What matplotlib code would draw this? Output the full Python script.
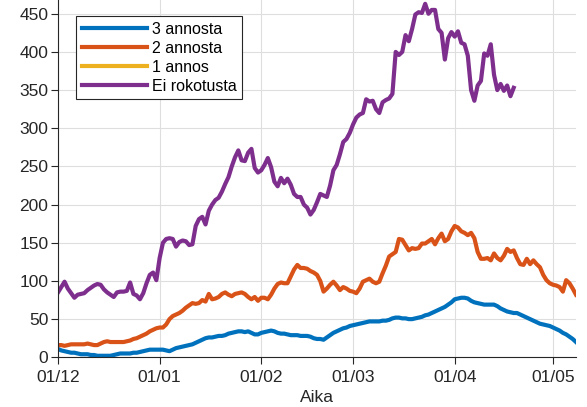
import numpy as np
import matplotlib
matplotlib.use("Agg")
import matplotlib.pyplot as plt
import matplotlib.dates as mdates

start_date = np.datetime64("2021-12-01")

# Daily values (day 0 = 1 Dec 2021)
ei_rokotusta = [85, 92, 99, 90, 84, 78, 82, 83, 84, 88, 91, 94, 96, 95, 89, 85, 82, 79, 85, 86,
                86, 87, 98, 83, 81, 76, 84, 97, 108, 111, 101, 130, 150, 155, 156, 155, 145, 151, 153, 152,
                147, 148, 172, 181, 184, 174, 192, 200, 206, 209, 217, 227, 236, 250, 262, 271, 258, 257, 268, 273,
                248, 242, 245, 252, 261, 249, 230, 224, 235, 228, 234, 226, 214, 210, 210, 200, 196, 187, 193, 203,
                214, 212, 210, 225, 245, 252, 266, 282, 286, 294, 305, 314, 318, 320, 338, 335, 336, 325, 320, 334,
                337, 339, 345, 400, 396, 400, 422, 414, 430, 449, 452, 451, 463, 450, 455, 455, 430, 425, 390, 418,
                426, 420, 427, 412, 410, 395, 350, 336, 356, 362, 398, 395, 410, 370, 350, 358, 349, 356, 342, 353]

annosta_2 = [16, 16, 15, 16, 17, 17, 17, 17, 17, 18, 17, 16, 16, 18, 20, 21, 20, 20, 20, 20,
             20, 21, 22, 24, 25, 27, 29, 31, 34, 36, 38, 39, 39, 43, 50, 54, 56, 58, 61, 65,
             68, 71, 70, 71, 75, 73, 83, 76, 77, 79, 83, 85, 82, 80, 83, 84, 85, 83, 79, 76,
             79, 74, 78, 78, 76, 82, 90, 96, 98, 97, 97, 106, 115, 121, 117, 117, 116, 113, 111, 108,
             100, 86, 90, 95, 99, 94, 88, 92, 90, 87, 86, 84, 90, 99, 101, 103, 99, 97, 99, 110,
             120, 132, 135, 138, 155, 154, 147, 140, 143, 142, 143, 149, 149, 152, 155, 148, 156, 162, 152, 155,
             165, 172, 170, 165, 163, 160, 163, 156, 138, 129, 129, 130, 127, 136, 130, 127, 133, 142, 138, 140,
             130, 122, 121, 129, 122, 127, 122, 118, 108, 101, 97, 95, 94, 92, 86, 101, 97, 90, 82]

annosta_3 = [11, 9, 8, 7, 6, 6, 5, 4, 4, 4, 3, 3, 2, 2, 2, 2, 2, 3, 4, 5,
             5, 5, 5, 6, 6, 7, 8, 9, 10, 10, 10, 10, 10, 9, 8, 10, 12, 13, 14, 15,
             16, 17, 19, 21, 23, 25, 26, 26, 27, 28, 28, 29, 31, 32, 33, 34, 34, 33, 34, 32,
             30, 30, 32, 33, 34, 35, 34, 32, 31, 31, 30, 29, 29, 29, 28, 28, 28, 27, 25, 24,
             24, 23, 26, 29, 32, 34, 36, 38, 39, 41, 42, 43, 44, 45, 46, 47, 47, 47, 47, 48,
             48, 49, 51, 52, 52, 51, 51, 50, 50, 51, 52, 53, 55, 56, 58, 60, 62, 64, 66, 69,
             72, 76, 77, 78, 78, 77, 74, 72, 71, 70, 69, 69, 69, 69, 67, 64, 62, 60, 59, 58,
             58, 56, 54, 52, 50, 48, 46, 44, 43, 42, 41, 39, 37, 35, 32, 30, 27, 24, 20]

annos_1 = []  # no visible data in the chart

labels = ["3 annosta", "2 annosta", "1 annos", "Ei rokotusta"]
colors = ["#0072BD", "#D95319", "#EDB120", "#7E2F8E"]
tick_dates = ["2021-12-01", "2022-01-01", "2022-02-01", "2022-03-01", "2022-04-01", "2022-05-01"]


def dates_for(vals):
    return (start_date + np.arange(len(vals)).astype("timedelta64[D]")).astype(object)


plt.rcParams["font.family"] = ["Liberation Sans", "DejaVu Sans"]
dark = "#262626"
fs = 12.5

fig = plt.figure(figsize=(5.87, 4.07), dpi=100)
ax = fig.add_axes([58 / 587, 49.7 / 407, 518 / 587, 357.3 / 407])

series = [annosta_3, annosta_2, annos_1, ei_rokotusta]
for vals, lab, col in zip(series, labels, colors):
    ax.plot(dates_for(vals) if len(vals) else [], vals, color=col, lw=3.0,
            label=lab, solid_joinstyle="round")

ax.set_xlim(np.datetime64("2021-12-01").astype(object), np.datetime64("2022-05-08").astype(object))
ax.set_ylim(0, 468)
ax.set_yticks(np.arange(0, 451, 50))
ax.set_xticks([np.datetime64(d).astype(object) for d in tick_dates])
ax.xaxis.set_major_formatter(mdates.DateFormatter("%d/%m"))

ax.grid(True, color="#dedede", lw=0.8)
ax.set_axisbelow(True)
for s in ["top", "right"]:
    ax.spines[s].set_visible(False)
for s in ["left", "bottom"]:
    ax.spines[s].set_color(dark)
    ax.spines[s].set_linewidth(0.8)
ax.tick_params(axis="both", direction="out", length=5, width=0.8, colors=dark,
               labelsize=fs, labelcolor=dark, pad=2)
ax.tick_params(axis="x", pad=4.5)
ax.set_xlabel("Aika", fontsize=fs, color=dark, labelpad=3)

leg = ax.legend(loc="upper left", bbox_to_anchor=(0.035, 0.955), borderaxespad=0,
                fontsize=11.5, handlelength=4.1, handletextpad=0.3, labelspacing=0.25,
                borderpad=0.35, fancybox=False, framealpha=1, edgecolor=dark)
leg.get_frame().set_linewidth(0.8)
for line in leg.get_lines():
    line.set_linewidth(3.0)

fig.savefig("out.png", dpi=100)
